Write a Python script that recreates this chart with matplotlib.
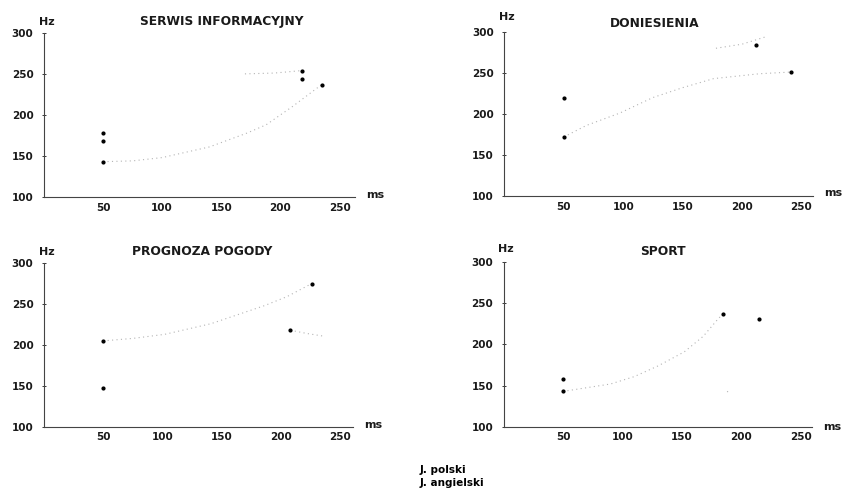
import matplotlib.pyplot as plt

# data (x in ms, y in Hz)
titles = ['SERWIS INFORMACYJNY', 'DONIESIENIA', 'PROGNOZA POGODY', 'SPORT']
series = ['J. polski', 'J. angielski']

# measured points
pl_x = [[50, 235], [50, 241], [50, 226], [50, 185]]
pl_y = [[143, 237], [172, 251], [205, 275], [143, 237]]
en_x = [[50, 50, 218, 218], [50, 212], [50, 208], [50, 215]]
en_y = [[168, 178, 254, 244], [220, 284], [148, 218], [158, 231]]

# faint dotted trend curves (read point by point)
pl_curve_x = [[50, 75, 100, 140, 172, 188, 210, 235],
              [50, 69, 97, 125, 150, 176, 215, 241],
              [50, 75, 102, 141, 186, 205, 226],
              [50, 90, 110, 130, 152, 168, 181, 185]]
pl_curve_y = [[143, 144, 148, 161, 178, 188, 210, 237],
              [172, 186, 201, 220, 232, 243, 249, 251],
              [205, 208, 213, 226, 248, 259, 275],
              [143, 152, 161, 174, 191, 210, 232, 237]]
en_curve_x = [[170, 195, 218], [178, 200, 220], [208, 222, 235], [188, 191]]
en_curve_y = [[250, 251, 254], [280, 285, 294], [218, 214, 211], [143, 141]]

xmax = [263, 259.6, 261, 259.5]
xticks = [50, 100, 150, 200, 250]
yticks = [100, 150, 200, 250, 300]

# layout in figure fraction: left, bottom, width, height
boxes = [[0.052, 0.598, 0.368, 0.335],
         [0.597, 0.600, 0.365, 0.335],
         [0.052, 0.129, 0.366, 0.334],
         [0.596, 0.129, 0.365, 0.336]]
title_pos = [(0.572, 1.067), (0.488, 1.053), (0.511, 1.069), (0.518, 1.063)]
hz_pos = [(0.01, 1.067), (0.008, 1.09), (0.01, 1.07), (0.008, 1.08)]
ms_pos = [(1.035, 0.012), (1.035, 0.02), (1.035, 0.01), (1.035, 0.0)]

dark = '#1a1a1a'
faint = '#b4b4b4'

fig = plt.figure(figsize=(8.45, 4.9), dpi=100)

for i in range(4):
    ax = fig.add_axes(boxes[i])
    lpl, = ax.plot(pl_curve_x[i], pl_curve_y[i], ls=(0, (1, 3)), lw=0.8, color=faint)
    len_, = ax.plot(en_curve_x[i], en_curve_y[i], ls=(0, (1, 3)), lw=0.8, color=faint)
    ax.scatter(pl_x[i], pl_y[i], s=4, color='black', zorder=3)
    ax.scatter(en_x[i], en_y[i], s=4, color='black', zorder=3)

    ax.set_xlim(0, xmax[i])
    ax.set_ylim(100, 300)
    ax.set_xticks(xticks)
    ax.set_yticks(yticks)
    for s in ['top', 'right']:
        ax.spines[s].set_visible(False)
    for s in ['left', 'bottom']:
        ax.spines[s].set_linewidth(0.8)
        ax.spines[s].set_color('#444444')
    ax.tick_params(axis='x', length=0, pad=4, labelsize=7.5, colors=dark)
    ax.tick_params(axis='y', length=3, width=0.6, direction='inout', pad=6,
                   labelsize=7.5, colors=dark)
    for lab in ax.get_xticklabels() + ax.get_yticklabels():
        lab.set_fontweight('bold')

    ax.text(*title_pos[i], titles[i], transform=ax.transAxes, ha='center',
            va='center', fontsize=8.8, fontweight='bold', color=dark)
    ax.text(*hz_pos[i], 'Hz', transform=ax.transAxes, ha='center',
            va='center', fontsize=8, fontweight='bold', color=dark)
    ax.text(*ms_pos[i], 'ms', transform=ax.transAxes, ha='left',
            va='center', fontsize=8, fontweight='bold', color=dark)

fig.legend([lpl, len_], series, loc='upper left', bbox_to_anchor=(0.49, 0.062),
           frameon=False, handlelength=0, handletextpad=0,
           labelspacing=0.3, borderpad=0, prop={'weight': 'bold', 'size': 7.5})

fig.savefig('out.png', dpi=100)
